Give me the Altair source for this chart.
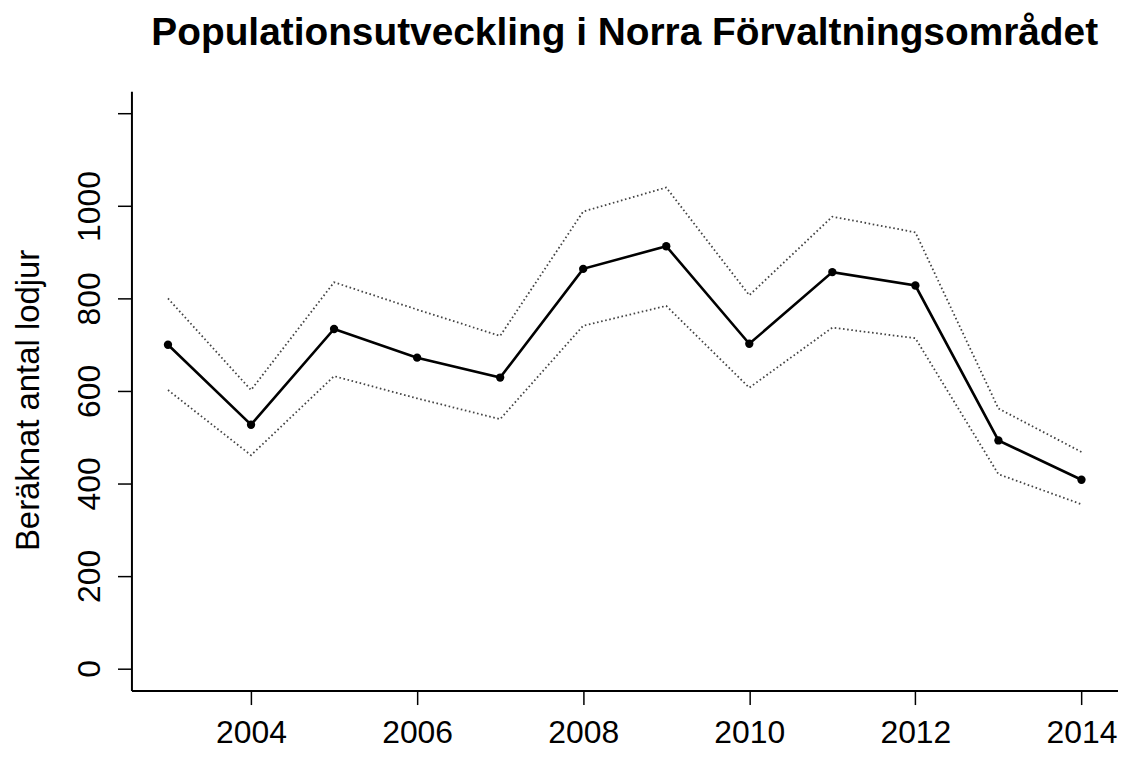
import altair as alt
import pandas as pd

years = [2003, 2004, 2005, 2006, 2007, 2008, 2009, 2010, 2011, 2012, 2013, 2014]
estimate = [700, 527, 734, 672, 629, 864, 913, 702, 857, 828, 493, 408]
upper = [800, 602, 835, 776, 719, 988, 1040, 807, 977, 943, 562, 468]
lower = [602, 461, 632, 584, 539, 741, 784, 607, 737, 714, 420, 355]

x_ticks = [2004, 2006, 2008, 2010, 2012, 2014]
y_ticks = [0, 200, 400, 600, 800, 1000, 1200]

df = pd.DataFrame({"year": years, "estimate": estimate, "upper": upper, "lower": lower})
ci = pd.concat([
    pd.DataFrame({"year": years, "value": upper, "bound": "upper"}),
    pd.DataFrame({"year": years, "value": lower, "bound": "lower"}),
])

FONT = "Liberation Sans"

x_enc = alt.X(
    "year:Q",
    scale=alt.Scale(domain=[2002.56, 2014.44], nice=False, zero=False),
    axis=alt.Axis(
        values=x_ticks, format="d", title=None, grid=False,
        domainColor="black", domainWidth=2, tickColor="black", tickWidth=1.5, tickSize=14,
        labelFont=FONT, labelFontSize=32, labelColor="black",
        labelBaseline="alphabetic", labelPadding=38, labelFlush=False, labelOverlap=False,
    ),
)

y_axis = alt.Axis(
    values=y_ticks, format="d", title="Beräknat antal lodjur", grid=False,
    domainColor="black", domainWidth=2, tickColor="black", tickWidth=1.5, tickSize=14,
    labelFont=FONT, labelFontSize=32, labelColor="black", labelAngle=270,
    labelAlign="center", labelBaseline="alphabetic", labelPadding=18,
    labelFlush=False, labelOverlap=False,
    labelExpr="datum.value == 1200 ? '' : datum.label",
    titleFont=FONT, titleFontSize=33, titleFontWeight="normal", titleColor="black",
    titleAngle=270, titleAlign="center", titleBaseline="alphabetic",
    titleX=-93, titleY=310,
)
y_scale = alt.Scale(domain=[-48, 1248], nice=False, zero=False)

ci_lines = alt.Chart(ci).mark_line(
    color="#444444", strokeWidth=1.8, strokeDash=[1.6, 2.6]
).encode(
    x=x_enc,
    y=alt.Y("value:Q", scale=y_scale, axis=y_axis),
    detail="bound:N",
)

main_line = alt.Chart(df).mark_line(color="black", strokeWidth=2.6).encode(
    x=x_enc,
    y=alt.Y("estimate:Q", scale=y_scale, axis=y_axis),
)

pts = alt.Chart(df).mark_circle(color="black", opacity=1, size=70).encode(
    x=x_enc,
    y=alt.Y("estimate:Q", scale=y_scale, axis=y_axis),
)

chart = alt.layer(ci_lines, main_line, pts).properties(
    width=991,
    height=602,
    padding={"left": 124, "top": 82, "right": 0, "bottom": 62},
    autosize=alt.AutoSizeParams(type="none"),
    background="white",
    title=alt.TitleParams(
        "Populationsutveckling i Norra Förvaltningsområdet",
        font=FONT, fontSize=39, fontWeight="bold", color="black",
        anchor="middle", frame="group", baseline="alphabetic", offset=8,
    ),
).configure_view(stroke=None)

chart.save("out.html", embed_options={"renderer": "svg", "actions": False})
